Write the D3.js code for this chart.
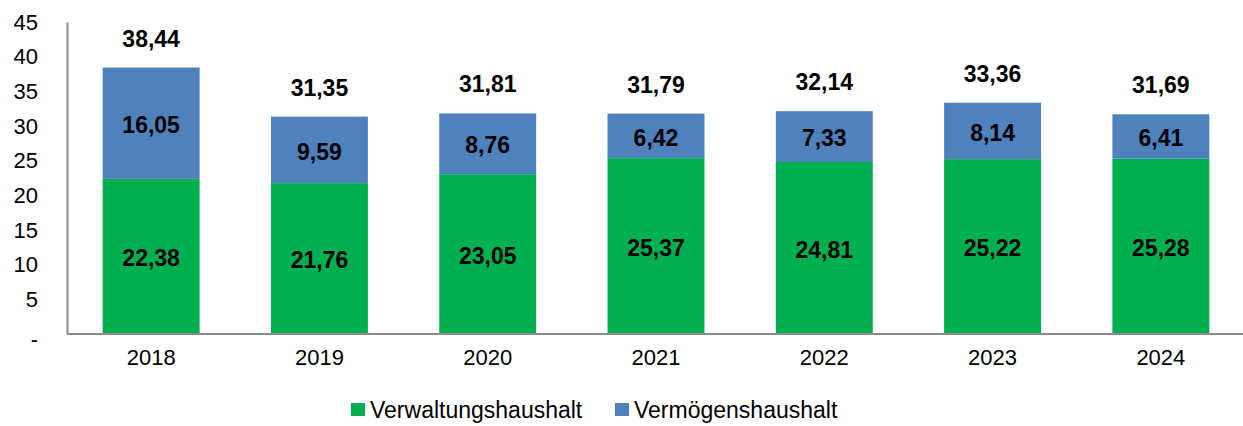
<!DOCTYPE html>
<html>
<head>
<meta charset="utf-8">
<script src="https://cdn.jsdelivr.net/npm/d3@7"></script>
<style>
    body { margin: 0; background: #fff; }
    svg { display: block; font-family: "Liberation Sans", Arial, sans-serif; }
</style>
</head>
<body>
<script>
(function(){
    // chart data
    var years = ["2018", "2019", "2020", "2021", "2022", "2023", "2024"];
    var verwaltung = [22.38, 21.76, 23.05, 25.37, 24.81, 25.22, 25.28];
    var vermoegen = [16.05, 9.59, 8.76, 6.42, 7.33, 8.14, 6.41];
    var totals = [38.44, 31.35, 31.81, 31.79, 32.14, 33.36, 31.69];
    var yTicks = [0, 5, 10, 15, 20, 25, 30, 35, 40, 45];
    var seriesNames = ["Verwaltungshaushalt", "Vermögenshaushalt"];
    var colors = ["#00B050", "#4F81BD"];

    var width = 1243, height = 426;
    var left = 67, right = 1245, top = 22, bottom = 334;

    var svg = d3.select("body").append("svg")
        .attr("width", width)
        .attr("height", height);

    var rows = years.map(function(y, i){
        return { year: y, v0: verwaltung[i], v1: vermoegen[i], total: totals[i] };
    });

    var stack = d3.stack().keys(["v0", "v1"]);
    var layers = stack(rows);

    var x = d3.scaleBand()
        .domain(years)
        .range([left, right])
        .paddingInner(0.424)
        .paddingOuter(0.212);

    var y = d3.scaleLinear()
        .domain([0, 45])
        .range([bottom, top]);

    var fmt = function(v){ return d3.format(".2f")(v).replace(".", ","); };

    // bars
    layers.forEach(function(layer, li){
        svg.append("g").selectAll("rect")
            .data(layer)
            .enter()
            .append("rect")
            .attr("x", function(d){ return x(d.data.year); })
            .attr("y", function(d){ return y(d[1]); })
            .attr("width", x.bandwidth())
            .attr("height", function(d){ return y(d[0]) - y(d[1]); })
            .attr("fill", colors[li]);

        svg.append("g").selectAll("text")
            .data(layer)
            .enter()
            .append("text")
            .attr("x", function(d){ return x(d.data.year) + x.bandwidth() / 2; })
            .attr("y", function(d){ return (y(d[0]) + y(d[1])) / 2; })
            .attr("dy", "0.42em")
            .attr("text-anchor", "middle")
            .attr("font-size", 23)
            .attr("font-weight", "bold")
            .attr("fill", "#000")
            .text(function(d){ return fmt(d[1] - d[0]); });
    });

    // totals above bars
    svg.append("g").selectAll("text")
        .data(rows)
        .enter()
        .append("text")
        .attr("x", function(d){ return x(d.year) + x.bandwidth() / 2; })
        .attr("y", function(d){ return y(d.v0 + d.v1) - 21; })
        .attr("text-anchor", "middle")
        .attr("font-size", 23)
        .attr("font-weight", "bold")
        .attr("fill", "#000")
        .text(function(d){ return fmt(d.total); });

    // y axis
    var yAxis = d3.axisLeft(y)
        .tickValues(yTicks)
        .tickSize(0)
        .tickPadding(29)
        .tickFormat(function(d){ return d === 0 ? "-" : d; });
    var gy = svg.append("g")
        .attr("transform", "translate(" + left + ",0)")
        .call(yAxis);
    gy.select(".domain").attr("stroke", "#8c8c8c").attr("stroke-width", 2);
    gy.selectAll("text")
        .attr("font-size", 22)
        .attr("font-family", "Liberation Sans, Arial, sans-serif")
        .attr("fill", "#000")
        .attr("dy", function(d){ return d === 0 ? "0.55em" : "0.32em"; });

    // x axis
    var xAxis = d3.axisBottom(x).tickSize(0).tickPadding(15);
    var gx = svg.append("g")
        .attr("transform", "translate(0," + bottom + ")")
        .call(xAxis);
    gx.select(".domain").attr("d", "M" + left + ",0H" + width)
        .attr("stroke", "#8c8c8c").attr("stroke-width", 2);
    gx.selectAll("text")
        .attr("font-size", 22)
        .attr("font-family", "Liberation Sans, Arial, sans-serif")
        .attr("fill", "#000");

    // legend
    var legendX = [351, 615];
    var legend = svg.append("g");
    seriesNames.forEach(function(name, i){
        legend.append("rect")
            .attr("x", legendX[i])
            .attr("y", 403)
            .attr("width", 14)
            .attr("height", 13)
            .attr("fill", colors[i]);
        legend.append("text")
            .attr("x", legendX[i] + 19)
            .attr("y", 410)
            .attr("dy", "0.36em")
            .attr("font-size", 23)
            .attr("fill", "#000")
            .text(name);
    });
})();
</script>
</body>
</html>
